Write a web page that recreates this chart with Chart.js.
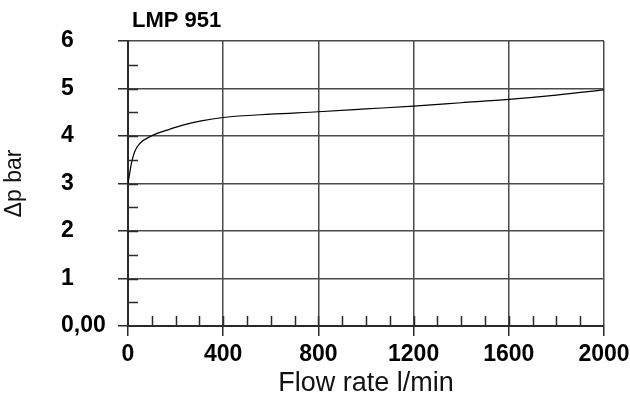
<!DOCTYPE html>
<html>
<head>
<meta charset="utf-8">
<script src="https://cdn.jsdelivr.net/npm/chart.js@4"></script>
<style>
  html, body { margin: 0; padding: 0; background: #fff; }
  #wrap { width: 630px; height: 400px; }
</style>
</head>
<body>
<div id="wrap"><canvas id="lmpChart" width="630" height="400"></canvas></div>
<script>
// LMP 951 pressure drop curve
const chartTitle = "LMP 951";
const flowRate = [0, 7, 14, 28, 49, 98, 168, 238, 308, 400, 600, 800, 1000, 1200, 1400, 1600, 1800, 2000];
const pressureDrop = [3.0, 3.21, 3.42, 3.67, 3.84, 4.0, 4.13, 4.24, 4.32, 4.39, 4.46, 4.51, 4.57, 4.63, 4.7, 4.77, 4.86, 4.97];
const xLabel = "Flow rate l/min";
const yLabel = "\u0394p bar";

const gridColor = "#4a4a4a";
const axisColor = "#2a2a2a";
const boldFont = { family: '"Liberation Sans", Arial, sans-serif', size: 23, weight: "bold" };

// small inner ticks + heading
const extras = {
  id: "extras",
  afterDraw(chart) {
    const { ctx, chartArea: a, scales } = chart;
    const x = scales.x, y = scales.y;
    ctx.save();
    ctx.strokeStyle = axisColor;
    ctx.lineWidth = 1.5;
    ctx.beginPath();
    for (let v = 100; v < 2000; v += 100) {
      const px = Math.round(x.getPixelForValue(v)) + 0.5;
      ctx.moveTo(px, a.bottom);
      ctx.lineTo(px, a.bottom - 10);
    }
    for (let v = 0.5; v < 6; v += 0.5) {
      const py = Math.round(y.getPixelForValue(v)) + 0.5;
      ctx.moveTo(a.left, py);
      ctx.lineTo(a.left + 10, py);
    }
    ctx.stroke();
    ctx.font = 'bold 22px "Liberation Sans", Arial, sans-serif';
    ctx.fillStyle = "#000";
    ctx.textBaseline = "alphabetic";
    ctx.fillText(chartTitle, a.left + 4, 27);
    ctx.restore();
  },
};

new Chart(document.getElementById("lmpChart"), {
  type: "scatter",
  data: {
    datasets: [
      {
        data: flowRate.map((f, i) => ({ x: f, y: pressureDrop[i] })),
        showLine: true,
        borderColor: "#000",
        borderWidth: 1.2,
        pointRadius: 0,
        cubicInterpolationMode: "monotone",
        fill: false,
      },
    ],
  },
  options: {
    responsive: false,
    animation: false,
    layout: { padding: { top: 41, right: 26, bottom: 0, left: 0 } },
    plugins: { legend: { display: false }, tooltip: { enabled: false } },
    scales: {
      x: {
        type: "linear",
        min: 0,
        max: 2000,
        afterFit: (s) => {
          s.height = 74;
          s.paddingLeft = 0;
          s.paddingRight = 0;
        },
        border: { display: true, color: axisColor, width: 2 },
        grid: { color: gridColor, lineWidth: 1.5, tickLength: 10, tickColor: axisColor },
        ticks: {
          stepSize: 400,
          padding: 5,
          color: "#000",
          font: boldFont,
          callback: (v) => String(v),
        },
        title: {
          display: true,
          text: xLabel,
          color: "#111",
          padding: { top: 0, bottom: 0 },
          font: { family: '"Liberation Sans", Arial, sans-serif', size: 27 },
        },
      },
      y: {
        type: "linear",
        position: "left",
        weight: 0,
        min: 0,
        max: 6,
        afterFit: (s) => { s.width = 67; },
        border: { display: true, color: axisColor, width: 2 },
        grid: { color: gridColor, lineWidth: 1.5, tickLength: 10, tickColor: axisColor },
        ticks: {
          stepSize: 1,
          crossAlign: "far",
          color: "#000",
          font: boldFont,
          callback: (v) => (v === 0 ? "0,00" : String(v)),
        },
      },
      yTitle: {
        type: "linear",
        position: "left",
        weight: 1,
        min: 0,
        max: 6,
        afterFit: (s) => { s.width = 61; },
        border: { display: false },
        grid: { display: false },
        ticks: { display: false },
        title: {
          display: true,
          text: yLabel,
          color: "#111",
          padding: { top: 1, bottom: 0 },
          font: { family: '"Liberation Sans", Arial, sans-serif', size: 23 },
        },
      },
    },
  },
  plugins: [extras],
});
</script>
</body>
</html>
